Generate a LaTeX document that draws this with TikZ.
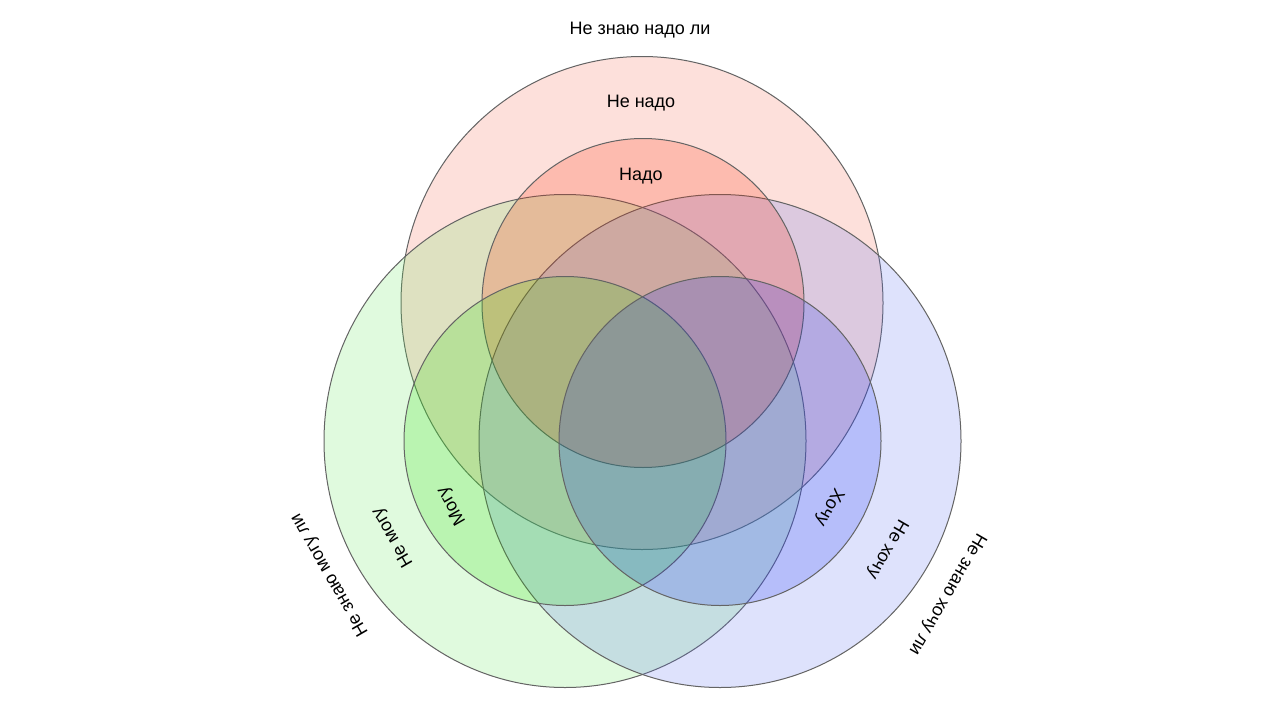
\documentclass[tikz,border=0pt]{standalone}
\usepackage{fontspec}
\setmainfont{Liberation Sans}
\definecolor{lpc}{RGB}{245,100,75}
\definecolor{lgc}{RGB}{100,230,90}
\definecolor{lbc}{RGB}{90,110,240}
\definecolor{src}{RGB}{253,39,0}
\definecolor{sgc}{RGB}{34,220,0}
\definecolor{sbc}{RGB}{22,46,242}
\definecolor{edgec}{RGB}{100,100,100}
\begin{document}
\begin{tikzpicture}[x=1pt,y=-1pt,
  circ/.style={draw=edgec, line width=1pt, fill opacity=0.2},
  lbl/.style={font=\fontsize{18}{21}\selectfont, inner sep=0pt, text=black}]
\useasboundingbox (0,0) rectangle (1280,720);
\fill[white] (0,0) rectangle (1280,720);
% large circles
\filldraw[circ, fill=lpc] (642,303) ellipse [x radius=241, y radius=246.5];
\filldraw[circ, fill=lgc] (565,441) ellipse [x radius=241, y radius=246.5];
\filldraw[circ, fill=lbc] (720,441) ellipse [x radius=241, y radius=246.5];
% small circles
\filldraw[circ, fill=src] (643,303) ellipse [x radius=161, y radius=164.5];
\filldraw[circ, fill=sgc] (565,441) ellipse [x radius=161, y radius=164.5];
\filldraw[circ, fill=sbc] (720,441) ellipse [x radius=161, y radius=164.5];
% labels
\node[lbl] (t1) at (640,30) {Не знаю надо ли};
\node[lbl] (t2) at (641,103) {Не надо};
\node[lbl] (t3) at (641,176) {Надо};
\node[lbl, rotate=120] (g1) at (452,506) {Могу};
\node[lbl, rotate=120] (g2) at (393,537) {Не могу};
\node[lbl, rotate=120] (g3) at (330,575) {Не знаю могу ли};
\node[lbl, rotate=-120] (b1) at (829,507) {Хочу};
\node[lbl, rotate=-120] (b2) at (887,549) {Не хочу};
\node[lbl, rotate=-120] (b3) at (947,594) {Не знаю хочу ли};
\end{tikzpicture}
\end{document}
